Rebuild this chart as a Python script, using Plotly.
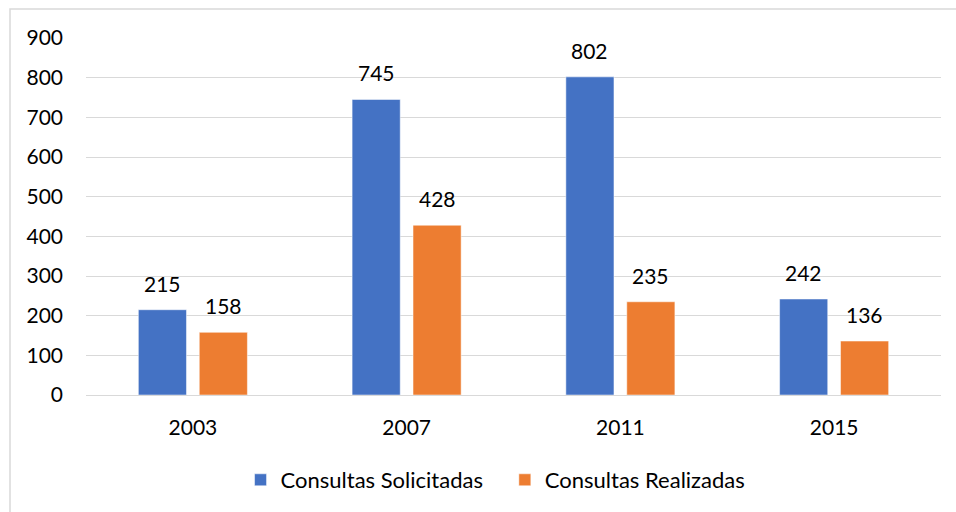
import plotly.graph_objects as go

years = ["2003", "2007", "2011", "2015"]
solicitadas = [215, 745, 802, 242]
realizadas = [158, 428, 235, 136]
y_ticks = [0, 100, 200, 300, 400, 500, 600, 700, 800, 900]

FONT = "Lato, Noto Sans, sans-serif"
NBSP = "\u00a0"

fig = go.Figure()
fig.add_trace(go.Bar(
    x=years, y=solicitadas, name="Consultas Solicitadas" + NBSP * 3,
    marker=dict(color="#4472C4", line=dict(color="#ffffff", width=0.5)),
))
fig.add_trace(go.Bar(
    x=years, y=realizadas, name="Consultas Realizadas",
    marker=dict(color="#ED7D31", line=dict(color="#ffffff", width=0.5)),
))

annotations = []
for series, dx in ((solicitadas, -30.5), (realizadas, 30.5)):
    for i, v in enumerate(series):
        annotations.append(dict(x=i, y=v, xref="x", yref="y", text=str(v),
                                showarrow=False, xanchor="center", yanchor="bottom",
                                xshift=dx, yshift=12,
                                font=dict(size=21, color="#000000", family=FONT)))

L, R, T, B = 86, 15, 38, 116
W, H = 956, 512
pw = W - L - R
ph = H - T - B

fig.update_layout(
    width=W, height=H,
    margin=dict(l=L, r=R, t=T, b=B),
    paper_bgcolor="#ffffff", plot_bgcolor="#ffffff",
    barmode="group", bargap=0.43, bargroupgap=0.21,
    font=dict(family=FONT, size=21, color="#000000"),
    showlegend=True,
    legend=dict(orientation="h", x=0.479, xanchor="center", y=-84 / ph, yanchor="middle",
                font=dict(size=22, family=FONT, color="#000000"), itemwidth=30),
    xaxis=dict(type="category", range=[-0.5, len(years) - 0.5], showgrid=False,
               showline=False, ticks="", tickfont=dict(size=21), ticklabelstandoff=18),
    yaxis=dict(range=[0, 900], tickvals=y_ticks, showgrid=True, gridcolor="#D9D9D9",
               gridwidth=1.3, zeroline=True, zerolinecolor="#D9D9D9", zerolinewidth=1.3,
               showline=False, ticks="", tickfont=dict(size=21), ticklabelstandoff=22),
    annotations=annotations,
    shapes=[dict(type="rect", xref="paper", yref="paper",
                 x0=(10 - L) / pw, x1=(W + 20 - L) / pw,
                 y0=-(B + 20) / ph, y1=(H - B - 9) / ph,
                 line=dict(color="#D9D9D9", width=1.5), layer="below")],
)

fig.write_html("out.html", config={"displayModeBar": False},
               post_script="document.body.style.margin='0';document.body.style.overflow='hidden';")
